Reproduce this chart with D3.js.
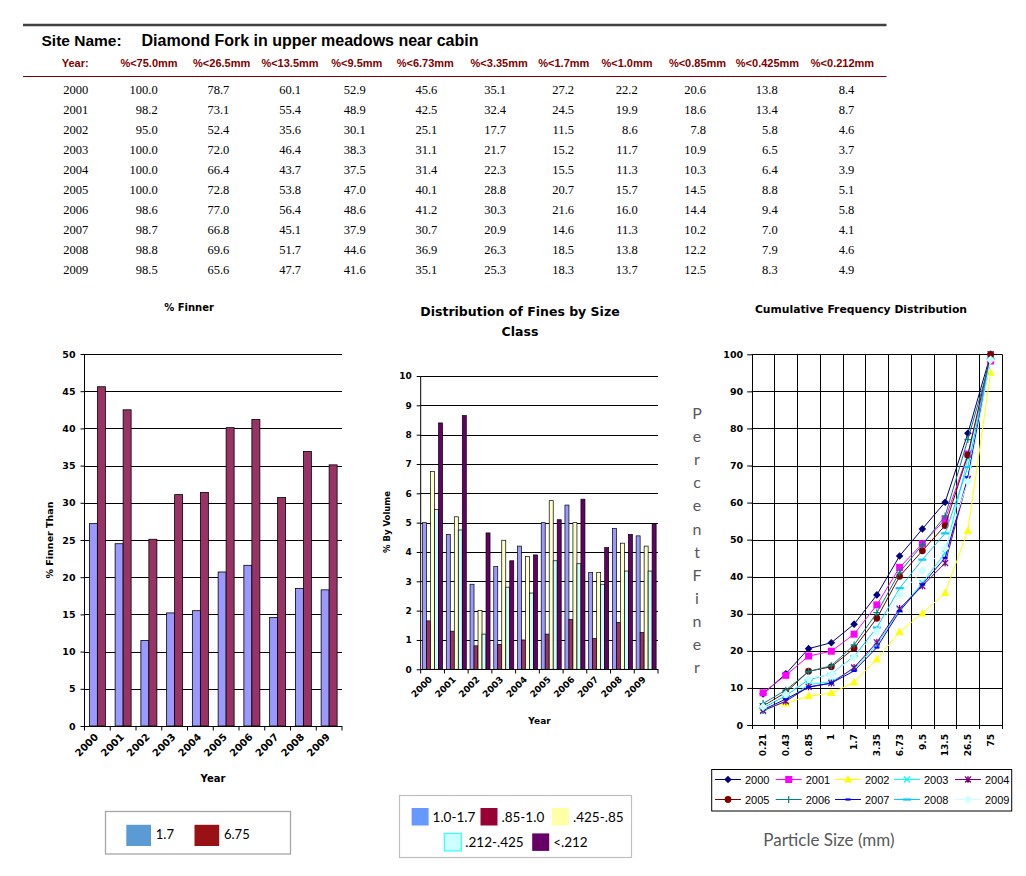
<!DOCTYPE html>
<html><head><meta charset="utf-8">
<script src="https://cdn.jsdelivr.net/npm/d3@7"></script>
<style>body{margin:0;background:#fff}svg{display:block}</style>
</head><body>
<svg id="c" width="1026" height="876"></svg>
<script>
// ---------- DATA ----------
const siteName = "Diamond Fork in upper meadows near cabin";
const years = ["2000","2001","2002","2003","2004","2005","2006","2007","2008","2009"];
const sieveHeaders = ["%<75.0mm","%<26.5mm","%<13.5mm","%<9.5mm","%<6.73mm","%<3.35mm","%<1.7mm","%<1.0mm","%<0.85mm","%<0.425mm","%<0.212mm"];
const row2000 = [100.0,78.7,60.1,52.9,45.6,35.1,27.2,22.2,20.6,13.8,8.4];
const row2001 = [98.2,73.1,55.4,48.9,42.5,32.4,24.5,19.9,18.6,13.4,8.7];
const row2002 = [95.0,52.4,35.6,30.1,25.1,17.7,11.5,8.6,7.8,5.8,4.6];
const row2003 = [100.0,72.0,46.4,38.3,31.1,21.7,15.2,11.7,10.9,6.5,3.7];
const row2004 = [100.0,66.4,43.7,37.5,31.4,22.3,15.5,11.3,10.3,6.4,3.9];
const row2005 = [100.0,72.8,53.8,47.0,40.1,28.8,20.7,15.7,14.5,8.8,5.1];
const row2006 = [98.6,77.0,56.4,48.6,41.2,30.3,21.6,16.0,14.4,9.4,5.8];
const row2007 = [98.7,66.8,45.1,37.9,30.7,20.9,14.6,11.3,10.2,7.0,4.1];
const row2008 = [98.8,69.6,51.7,44.6,36.9,26.3,18.5,13.8,12.2,7.9,4.6];
const row2009 = [98.5,65.6,47.7,41.6,35.1,25.3,18.3,13.7,12.5,8.3,4.9];
const tableRows = [row2000,row2001,row2002,row2003,row2004,row2005,row2006,row2007,row2008,row2009];

// % Finner chart
const finer17 = [27.2,24.5,11.5,15.2,15.5,20.7,21.6,14.6,18.5,18.3];
const finer675 = [45.6,42.5,25.1,31.1,31.4,40.1,41.2,30.7,36.9,35.1];
const finerTicks = [0,5,10,15,20,25,30,35,40,45,50];

// Distribution of fines
const vol10to17   = [5.0,4.6,2.9,3.5,4.2,5.0,5.6,3.3,4.8,4.55];
const vol085to10  = [1.65,1.3,0.8,0.85,1.0,1.2,1.7,1.05,1.6,1.25];
const vol0425to085= [6.75,5.2,2.0,4.4,3.85,5.75,5.0,3.3,4.3,4.2];
const vol0212to0425=[5.45,4.75,1.2,2.8,2.6,3.7,3.6,2.9,3.35,3.35];
const volLt0212   = [8.4,8.65,4.65,3.7,3.9,5.1,5.8,4.15,4.6,4.95];
const volClasses = ["1.0-1.7",".85-1.0",".425-.85",".212-.425","<.212"];
const volTicks = [0,1,2,3,4,5,6,7,8,9,10];

// Cumulative frequency
const particleSizes = ["0.21","0.43","0.85","1","1.7","3.35","6.73","9.5","13.5","26.5","75"];
const cumTicks = [0,10,20,30,40,50,60,70,80,90,100];

// ---------- STYLE ----------
const svg = d3.select("#c");
svg.append("rect").attr("width",1026).attr("height",876).attr("fill","#fff");
const tickFont = "DejaVu Sans, Verdana, sans-serif";
const arial = "Liberation Sans, Arial, sans-serif";
const calibri = "Lato, Carlito, sans-serif";

// ---------- TABLE ----------
svg.append("line").attr("x1",23).attr("x2",886.5).attr("y1",25).attr("y2",25).attr("stroke","#404040").attr("stroke-width",2.5);
svg.append("text").attr("x",41.5).attr("y",46).attr("font-family",arial).attr("font-weight","bold").attr("font-size",15.5).text("Site Name:");
svg.append("text").attr("x",141.5).attr("y",46).attr("font-family",arial).attr("font-weight","bold").attr("font-size",16).text(siteName);
const headCenters = [149,221.7,290,356.8,425.3,499.2,563.8,627,697.5,767.5,842.5];
const valRight = [157.7,229.3,301,365.7,437.3,506,574,637.7,706,777.7,854.3];
svg.append("text").attr("x",61.7).attr("y",67).attr("font-family",arial).attr("font-weight","bold").attr("font-size",11).attr("fill","#800000").text("Year:");
svg.selectAll(".hd").data(sieveHeaders).join("text").attr("class","hd")
  .attr("x",(d,i)=>headCenters[i]).attr("y",67).attr("text-anchor","middle")
  .attr("font-family",arial).attr("font-weight","bold").attr("font-size",11).attr("fill","#800000").text(d=>d);
svg.append("line").attr("x1",23).attr("x2",886.5).attr("y1",76.5).attr("y2",76.5).attr("stroke","#800000").attr("stroke-width",1.2);
const rowsG = svg.selectAll(".row").data(tableRows).join("g").attr("class","row")
  .attr("transform",(d,i)=>`translate(0,${94+20*i})`);
rowsG.append("text").attr("x",63.3).attr("font-family","Liberation Serif, Times New Roman, serif").attr("font-size",12.5).text((d,i)=>years[i]);
rowsG.selectAll("text.v").data(d=>d).join("text").attr("class","v")
  .attr("x",(d,i)=>valRight[i]).attr("text-anchor","end")
  .attr("font-family","Liberation Serif, Times New Roman, serif").attr("font-size",12.5).text(d=>d.toFixed(1));

// ---------- CHART 1: % Finner ----------
(function(){
  const x = d3.scaleBand().domain(years).range([84.5,342]);
  const y = d3.scaleLinear().domain([0,50]).range([726,354]);
  const g = svg.append("g");
  g.selectAll(".gl").data(finerTicks.slice(1)).join("line").attr("x1",84.5).attr("x2",342)
    .attr("y1",d=>Math.round(y(d))+0.5).attr("y2",d=>Math.round(y(d))+0.5).attr("stroke","#000");
  const bw = 8;
  g.selectAll(".b1").data(finer17).join("rect").attr("x",(d,i)=>x(years[i])+x.bandwidth()/2-bw).attr("width",bw)
    .attr("y",d=>y(d)).attr("height",d=>y(0)-y(d)).attr("fill","#9999FF").attr("stroke","#000").attr("stroke-width",0.8);
  g.selectAll(".b2").data(finer675).join("rect").attr("x",(d,i)=>x(years[i])+x.bandwidth()/2).attr("width",bw)
    .attr("y",d=>y(d)).attr("height",d=>y(0)-y(d)).attr("fill","#993366").attr("stroke","#000").attr("stroke-width",0.8);
  const ya = g.append("g").attr("transform","translate(84.5,0)")
    .call(d3.axisLeft(y).tickValues(finerTicks).tickSize(4).tickPadding(5).tickFormat(d3.format("d")));
  ya.select(".domain").attr("d","M0,354V726");
  ya.selectAll("text").attr("font-family",tickFont).attr("font-weight","bold").attr("font-size",9.5).attr("fill","#000");
  g.append("line").attr("x1",84.5).attr("x2",342).attr("y1",726.5).attr("y2",726.5).attr("stroke","#000");
  const edges = years.map(d=>x(d)).concat([342]);
  g.selectAll(".xt").data(edges).join("line").attr("x1",d=>d).attr("x2",d=>d).attr("y1",726).attr("y2",730.5).attr("stroke","#000");
  g.selectAll(".xl").data(years).join("text")
    .attr("transform",d=>`translate(${x(d)+x.bandwidth()/2-2},${734}) rotate(-45)`).attr("text-anchor","end")
    .attr("font-family",tickFont).attr("font-weight","bold").attr("font-size",10).attr("dy","0.5em").text(d=>d);
  g.append("text").attr("x",213).attr("y",782).attr("text-anchor","middle").attr("font-family",tickFont).attr("font-weight","bold").attr("font-size",10).text("Year");
  g.append("text").attr("transform","translate(53,540) rotate(-90)").attr("text-anchor","middle").attr("font-family",tickFont).attr("font-weight","bold").attr("font-size",9.5).text("% Finner Than");
  g.append("text").attr("x",189).attr("y",311).attr("text-anchor","middle").attr("font-family",tickFont).attr("font-weight","bold").attr("font-size",10).text("% Finner");
  // legend
  g.append("rect").attr("x",105.5).attr("y",811.5).attr("width",185).attr("height",42.5).attr("fill","#fff").attr("stroke","#A6A6A6").attr("stroke-width",1.3);
  const leg = [{n:"1.7",c:"#5B9BD5",x:126.3},{n:"6.75",c:"#9A1115",x:194.5}];
  leg.forEach(l=>{
    g.append("rect").attr("x",l.x).attr("y",824.8).attr("width",24.7).attr("height",21.2).attr("fill",l.c);
    g.append("text").attr("x",l.x+29.5).attr("y",839).attr("font-family",calibri).attr("font-size",13).text(l.n);
  });
})();

// ---------- CHART 2: Distribution ----------
(function(){
  const x = d3.scaleBand().domain(years).range([420.7,658]);
  const y = d3.scaleLinear().domain([0,10]).range([669.3,376]);
  const g = svg.append("g");
  g.selectAll(".gl").data(volTicks.slice(1)).join("line").attr("x1",420.7).attr("x2",658)
    .attr("y1",d=>Math.round(y(d))+0.5).attr("y2",d=>Math.round(y(d))+0.5).attr("stroke","#000");
  const series = [vol10to17,vol085to10,vol0425to085,vol0212to0425,volLt0212];
  const cols = ["#9999FF","#993366","#FFFFCC","#CCFFFF","#660066"];
  const bw = 4;
  series.forEach((s,k)=>{
    g.selectAll(".s"+k).data(s).join("rect").attr("x",(d,i)=>x(years[i])+x.bandwidth()/2-10+k*bw).attr("width",bw)
      .attr("y",d=>y(d)).attr("height",d=>y(0)-y(d)).attr("fill",cols[k]).attr("stroke","#000").attr("stroke-width",0.7);
  });
  const ya = g.append("g").attr("transform","translate(420.7,0)")
    .call(d3.axisLeft(y).tickValues(volTicks).tickSize(4).tickPadding(5).tickFormat(d3.format("d")));
  ya.select(".domain").attr("d","M0,376V669.3");
  ya.selectAll("text").attr("font-family",tickFont).attr("font-weight","bold").attr("font-size",9).attr("fill","#000");
  g.append("line").attr("x1",420.7).attr("x2",658).attr("y1",669.5).attr("y2",669.5).attr("stroke","#000");
  const edges = years.map(d=>x(d)).concat([658]);
  g.selectAll(".xt").data(edges).join("line").attr("x1",d=>d).attr("x2",d=>d).attr("y1",669).attr("y2",673.5).attr("stroke","#000");
  g.selectAll(".xl").data(years).join("text")
    .attr("transform",d=>`translate(${x(d)+x.bandwidth()/2-3},${677}) rotate(-45)`).attr("text-anchor","end")
    .attr("font-family",tickFont).attr("font-weight","bold").attr("font-size",9).attr("dy","0.5em").text(d=>d);
  g.append("text").attr("x",539.5).attr("y",724).attr("text-anchor","middle").attr("font-family",tickFont).attr("font-weight","bold").attr("font-size",9).text("Year");
  g.append("text").attr("transform","translate(390,522) rotate(-90)").attr("text-anchor","middle").attr("font-family",tickFont).attr("font-weight","bold").attr("font-size",8.5).text("% By Volume");
  g.append("text").attr("x",520).attr("y",316).attr("text-anchor","middle").attr("font-family",tickFont).attr("font-weight","bold").attr("font-size",12.5).text("Distribution of Fines by Size");
  g.append("text").attr("x",520).attr("y",336).attr("text-anchor","middle").attr("font-family",tickFont).attr("font-weight","bold").attr("font-size",12.5).text("Class");
  // legend
  g.append("rect").attr("x",399.5).attr("y",795.5).attr("width",232).attr("height",62).attr("fill","#fff").attr("stroke","#BFBFBF").attr("stroke-width",1.2);
  const lc = ["#6699FF","#990033","#FFFFA6","#CCFFFF","#660066"];
  const lpos = [{x:411.6,y:808},{x:480.5,y:808},{x:552,y:808},{x:444.3,y:833.4},{x:532.2,y:833.4}];
  volClasses.forEach((n,k)=>{
    g.append("rect").attr("x",lpos[k].x).attr("y",lpos[k].y).attr("width",17).attr("height",17.5).attr("fill",lc[k])
      .attr("stroke",k===3?"#33FFFF":"none").attr("stroke-width",1.2);
    g.append("text").attr("x",lpos[k].x+21).attr("y",lpos[k].y+14).attr("font-family",calibri).attr("font-size",13.5).text(n);
  });
})();

// ---------- CHART 3: Cumulative ----------
(function(){
  const x = d3.scaleBand().domain(particleSizes).range([751.7,1002]);
  const y = d3.scaleLinear().domain([0,100]).range([725,354.3]);
  const g = svg.append("g");
  g.selectAll(".gl").data(cumTicks).join("line").attr("x1",751.7).attr("x2",1002)
    .attr("y1",d=>Math.round(y(d))+0.5).attr("y2",d=>Math.round(y(d))+0.5).attr("stroke","#000");
  const edges = particleSizes.map(d=>x(d)).concat([1002]);
  g.selectAll(".vl").data(edges).join("line").attr("x1",d=>Math.round(d)+0.5).attr("x2",d=>Math.round(d)+0.5)
    .attr("y1",354.3).attr("y2",729).attr("stroke","#000");
  const ya = g.append("g").attr("transform","translate(752.2,0)")
    .call(d3.axisLeft(y).tickValues(cumTicks).tickSize(5).tickPadding(4).tickFormat(d3.format("d")));
  ya.select(".domain").remove();
  ya.selectAll("text").attr("font-family",tickFont).attr("font-weight","bold").attr("font-size",9.5).attr("fill","#000");
  g.selectAll(".xl").data(particleSizes).join("text")
    .attr("transform",d=>`translate(${x(d)+x.bandwidth()/2},${734}) rotate(-90)`).attr("text-anchor","end").attr("dy","0.35em")
    .attr("font-family",tickFont).attr("font-weight","bold").attr("font-size",9).text(d=>d);
  g.append("text").attr("x",861).attr("y",313).attr("text-anchor","middle").attr("font-family",tickFont).attr("font-weight","bold").attr("font-size",10.8).text("Cumulative Frequency Distribution");

  const styles = [
    {c:"#000080",m:"diamond"},{c:"#FF00FF",m:"square"},{c:"#FFFF00",m:"triangle"},{c:"#00FFFF",m:"x"},{c:"#800080",m:"star"},
    {c:"#800000",m:"circle"},{c:"#008080",m:"plus"},{c:"#0000FF",m:"dash"},{c:"#00CCFF",m:"dash2"},{c:"#CCFFFF",m:"diamond2"}
  ];
  function marker(sel, m, c, cx, cy){
    if(m==="diamond"){ sel.append("path").attr("d",`M${cx},${cy-3.8}L${cx+3.8},${cy}L${cx},${cy+3.8}L${cx-3.8},${cy}Z`).attr("fill",c); }
    else if(m==="diamond2"){ sel.append("path").attr("d",`M${cx},${cy-4.3}L${cx+4.3},${cy}L${cx},${cy+4.3}L${cx-4.3},${cy}Z`).attr("fill",c); }
    else if(m==="square"){ sel.append("rect").attr("x",cx-3.5).attr("y",cy-3.5).attr("width",7).attr("height",7).attr("fill",c); }
    else if(m==="triangle"){ sel.append("path").attr("d",`M${cx},${cy-4.5}L${cx+4.2},${cy+3}L${cx-4.2},${cy+3}Z`).attr("fill",c); }
    else if(m==="circle"){ sel.append("circle").attr("cx",cx).attr("cy",cy).attr("r",3.4).attr("fill",c); }
    else if(m==="x"){ sel.append("path").attr("d",`M${cx-3},${cy-3}L${cx+3},${cy+3}M${cx-3},${cy+3}L${cx+3},${cy-3}`).attr("stroke",c).attr("stroke-width",1.2); }
    else if(m==="star"){ sel.append("path").attr("d",`M${cx-3},${cy-3}L${cx+3},${cy+3}M${cx-3},${cy+3}L${cx+3},${cy-3}M${cx},${cy-3.5}V${cy+3.5}`).attr("stroke",c).attr("stroke-width",1.2); }
    else if(m==="plus"){ sel.append("path").attr("d",`M${cx-3.5},${cy}H${cx+3.5}M${cx},${cy-3.5}V${cy+3.5}`).attr("stroke",c).attr("stroke-width",1.2); }
    else if(m==="dash"){ sel.append("path").attr("d",`M${cx-2.5},${cy}H${cx+2.5}`).attr("stroke",c).attr("stroke-width",2.2); }
    else if(m==="dash2"){ sel.append("path").attr("d",`M${cx-4},${cy}H${cx+4}`).attr("stroke",c).attr("stroke-width",2.2); }
  }
  const line = d3.line().x((d,i)=>x(particleSizes[i])+x.bandwidth()/2).y(d=>y(d));
  tableRows.forEach((row,k)=>{
    const vals = row.slice().reverse();
    const sg = g.append("g");
    sg.append("path").attr("d",line(vals)).attr("fill","none").attr("stroke",styles[k].c).attr("stroke-width",1);
    vals.forEach((v,i)=>marker(sg, styles[k].m, styles[k].c, x(particleSizes[i])+x.bandwidth()/2, y(v)));
  });
  // legend
  g.append("rect").attr("x",711.7).attr("y",769.5).attr("width",300).attr("height",41.5).attr("fill","#fff").attr("stroke","#000").attr("stroke-width",1);
  const lx = [715,775.7,835,894,955];
  years.forEach((yr,k)=>{
    const cx = lx[k%5], cy = k<5?779.5:799.5;
    g.append("line").attr("x1",cx).attr("x2",cx+26).attr("y1",cy).attr("y2",cy).attr("stroke",styles[k].c).attr("stroke-width",1);
    marker(g, styles[k].m, styles[k].c, cx+13, cy);
    g.append("text").attr("x",cx+30).attr("y",cy+4).attr("font-family",arial).attr("font-size",11).text(yr);
  });
  // axis titles
  const pf = "PercentFiner".split("");
  g.selectAll(".pf").data(pf).join("text").attr("x",697).attr("y",(d,i)=>419+i*23.1).attr("text-anchor","middle")
    .attr("font-family",calibri).attr("font-size",16).attr("fill","#595959").text(d=>d);
  g.append("text").attr("x",763.3).attr("y",846).attr("font-family",calibri).attr("font-size",17).attr("fill","#595959").text("Particle Size (mm)");
})();
</script>
</body></html>
